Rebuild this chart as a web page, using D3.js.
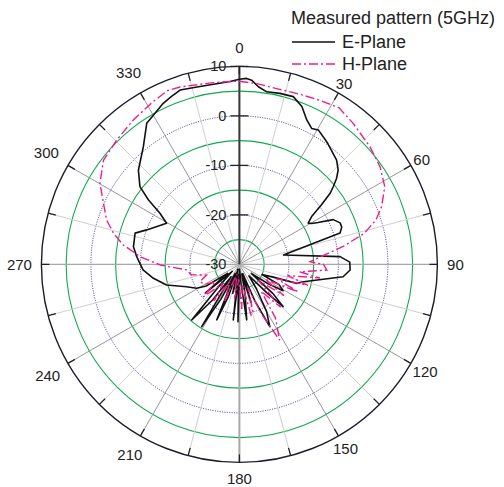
<!DOCTYPE html>
<html>
<head>
<meta charset="utf-8">
<script src="https://cdn.jsdelivr.net/npm/d3@7/dist/d3.min.js"></script>
<style>
  html, body { margin: 0; padding: 0; background: #fff; }
  svg { display: block; }
  text { font-family: "Liberation Sans", Arial, Helvetica, sans-serif; fill: #222; }
</style>
</head>
<body>
<svg id="chart" width="504" height="487"></svg>
<script>
// Measured radiation pattern at 5 GHz: angle (degrees, clockwise from top) and gain (dB)
const ePlaneAngles = [0, 2.2, 3.8, 6.1, 9, 13.3, 17.8, 21.6, 25, 28, 30.4, 36, 43, 46.3, 48.5, 50.4, 51.9, 54, 56.5, 59, 60.5, 62, 64.5, 67.6, 70, 72.7, 77.9, 85.6, 88.8, 92.9, 96.8, 105.1, 108.3, 110.6, 114, 117, 121, 124, 127, 131, 134, 136, 140, 145, 150, 154, 157, 160, 163, 166, 169, 172.5, 175, 178, 181.4, 183.5, 186.3, 189, 193, 196, 199, 202.2, 205, 208, 211.2, 214, 217, 220.6, 223, 226, 230, 233, 237, 240.8, 247.1, 254.2, 260.8, 266.7, 270.6, 274.3, 279.5, 286.7, 290.4, 299.5, 302.8, 305.3, 308, 313, 320.8, 326.7, 334.7, 338, 341.2, 347.5, 357.1, 360];
const ePlaneGain = [7.4, 7.6, 7.3, 6.1, 5.3, 5.5, 5.6, 4.3, 2.2, 1.1, 1.5, 0.3, -1.2, -2.4, -3.8, -5.4, -6.7, -9.5, -12.5, -13.8, -13.2, -12, -9, -8, -8, -8.7, -20.9, -9.6, -7.7, -7.6, -8.9, -16.6, -17.8, -22.7, -25, -21, -19.7, -23, -27, -21, -17.7, -22, -27, -24, -19, -16, -22, -28, -22, -28, -24, -18.7, -26, -29, -18.4, -27, -18.7, -28, -24, -29, -23, -17.9, -28, -22, -15.3, -27, -21, -15.2, -24, -28, -21, -27, -22, -20.1, -18.4, -14.7, -12.4, -10.5, -9.9, -9.2, -8.3, -8, -10, -13.1, -10.9, -7.5, -4.5, -2.1, 0.7, 4.1, 6, 6.6, 7.2, 6.8, 7, 7.4];

const hPlaneAngles = [0, 5.5, 13, 20, 26, 32.5, 38.9, 48, 55.2, 61.9, 67.9, 72, 76, 80, 87.8, 90, 93.7, 97, 99.6, 103, 107, 111, 115, 120, 125, 130, 136, 141, 146, 152, 156, 160, 164, 167, 172, 177, 182, 188, 195, 202, 209, 215, 221, 228, 234, 240, 246.3, 252, 258, 264, 269.6, 274.4, 276.8, 279.5, 283.9, 288.5, 294.2, 300.2, 307.5, 315.4, 323.7, 331.9, 337.6, 341.5, 351.8, 357.1, 360];
const hPlaneGain = [7, 6.7, 6.3, 6.5, 6.9, 7.5, 6.6, 5.5, 4.6, 3.3, 1, -1, -4, -8.5, -15.7, -13, -12.3, -17.7, -13.5, -20, -15.5, -22, -17, -24, -19, -25, -18, -23, -17, -12.7, -19, -25, -20, -19.5, -26, -21, -27, -23, -28, -22, -26, -21, -25, -20.2, -24, -22, -21.3, -23, -20, -19.3, -14, -9.9, -8.4, -6.2, -3.8, -1.7, 0.1, 2.6, 4.6, 5.3, 6.2, 7.2, 8, 7.8, 7.1, 7, 7];

const radialTicks = [-30, -20, -10, 0, 10];
const ringLevels = [-25, -20, -15, -10, -5, 0, 5];
const angleTicks = d3.range(0, 360, 30);
const spokeAngles = d3.range(0, 360, 15);
const legendTitle = "Measured pattern (5GHz)";
const seriesNames = ["E-Plane", "H-Plane"];

const svg = d3.select("#chart");
const cx = 239.4, cy = 264.4, R = 198;
const rScale = d3.scaleLinear().domain([-30, 10]).range([0, R]).clamp(true);
const rad = d => d * Math.PI / 180;
const px = (a, r) => r * Math.sin(rad(a));
const py = (a, r) => -r * Math.cos(rad(a));

const g = svg.append("g").attr("transform", `translate(${cx},${cy})`);

// Concentric grid rings: dotted blue on the 10 dB levels, solid green in between
const onDecade = d => (d + 30) % 10 === 0;
g.selectAll("circle.ring").data(ringLevels).join("circle")
  .attr("class", "ring")
  .attr("r", d => rScale(d))
  .attr("fill", "none")
  .attr("stroke", d => onDecade(d) ? "#2c37a3" : "#12a84f")
  .attr("stroke-width", d => onDecade(d) ? 1 : 1.1)
  .attr("stroke-dasharray", d => onDecade(d) ? "1,1.4" : null);

// Radial spokes every 15 degrees
g.selectAll("line.spoke").data(spokeAngles).join("line")
  .attr("class", "spoke")
  .attr("x1", 0).attr("y1", 0)
  .attr("x2", d => px(d, R)).attr("y2", d => py(d, R))
  .attr("stroke", d => (d % 90 === 0) ? "#a8a8a8" : (d % 30 === 0 ? "#979797" : "#cfcfcf"))
  .attr("stroke-width", d => d === 180 ? 2 : (d % 90 === 0 ? 1.3 : 1));

// Radial axis (upper half of vertical line)
g.append("line")
  .attr("x1", 0).attr("y1", 0).attr("x2", 0).attr("y2", -R)
  .attr("stroke", "#3a3a3a").attr("stroke-width", 2);

// Outer boundary
g.append("circle").attr("r", R).attr("fill", "none")
  .attr("stroke", "#1c1c2c").attr("stroke-width", 1.4);

// Angular ticks along outer boundary
g.selectAll("line.atick").data(spokeAngles).join("line")
  .attr("class", "atick")
  .attr("x1", d => px(d, R - 8)).attr("y1", d => py(d, R - 8))
  .attr("x2", d => px(d, R)).attr("y2", d => py(d, R))
  .attr("stroke", "#222").attr("stroke-width", 1.3);

// Radial ticks on the vertical axis
g.selectAll("line.rtick").data(radialTicks.filter(d => d > -30)).join("line")
  .attr("class", "rtick")
  .attr("x1", -9).attr("x2", 9)
  .attr("y1", d => -rScale(d)).attr("y2", d => -rScale(d))
  .attr("stroke", "#222").attr("stroke-width", 1.3);

// Radial labels
g.selectAll("text.rlabel").data(radialTicks).join("text")
  .attr("class", "rlabel")
  .attr("x", -13).attr("y", d => -rScale(d))
  .attr("text-anchor", "end").attr("dominant-baseline", "central")
  .attr("font-size", 14.5)
  .text(d => d);

// Angle labels placed just outside the boundary
g.selectAll("text.alabel").data(angleTicks).join("text")
  .attr("class", "alabel")
  .each(function(d) {
    const label = String(d);
    const s = Math.abs(Math.sin(rad(d))), c = Math.abs(Math.cos(rad(d)));
    let r = R + 10 + 4 * label.length * s + 6 * c;
    // upper labels sit slightly higher, oblique right-hand ones slightly closer
    if (d < 90 || d > 270) r += 3 * c;
    if (d > 0 && d < 180 && d !== 90) r -= 7;
    if (d > 0 && d < 90) r -= 4 * c;
    d3.select(this)
      .attr("x", px(d, r)).attr("y", py(d, r))
      .attr("text-anchor", "middle").attr("dominant-baseline", "central")
      .attr("font-size", 15)
      .text(label);
  });

// Pattern traces
const radial = d3.lineRadial()
  .angle(d => rad(d[0]))
  .radius(d => rScale(d[1]))
  .curve(d3.curveLinear);

const eData = ePlaneAngles.map((a, i) => [a, ePlaneGain[i]]);
const hData = hPlaneAngles.map((a, i) => [a, hPlaneGain[i]]);

g.append("path").datum(eData)
  .attr("d", radial)
  .attr("fill", "none").attr("stroke", "#111").attr("stroke-width", 1.6)
  .attr("stroke-linejoin", "round");

g.append("path").datum(hData)
  .attr("d", radial)
  .attr("fill", "none").attr("stroke", "#ee1d8c").attr("stroke-width", 1.4)
  .attr("stroke-dasharray", "9,3,2,3");

// Legend
const legend = svg.append("g");
legend.append("text").attr("x", 291).attr("y", 24).attr("font-size", 18).text(legendTitle);
const styles = [
  { stroke: "#111", dash: null, w: 1.6 },
  { stroke: "#ee1d8c", dash: "9,3,2,3", w: 1.4 }
];
seriesNames.forEach((name, i) => {
  const y = 42 + i * 22;
  legend.append("line")
    .attr("x1", 292).attr("x2", 335).attr("y1", y).attr("y2", y)
    .attr("stroke", styles[i].stroke).attr("stroke-width", styles[i].w)
    .attr("stroke-dasharray", styles[i].dash);
  legend.append("text").attr("x", 342).attr("y", y + 6).attr("font-size", 18).text(name);
});
</script>
</body>
</html>
